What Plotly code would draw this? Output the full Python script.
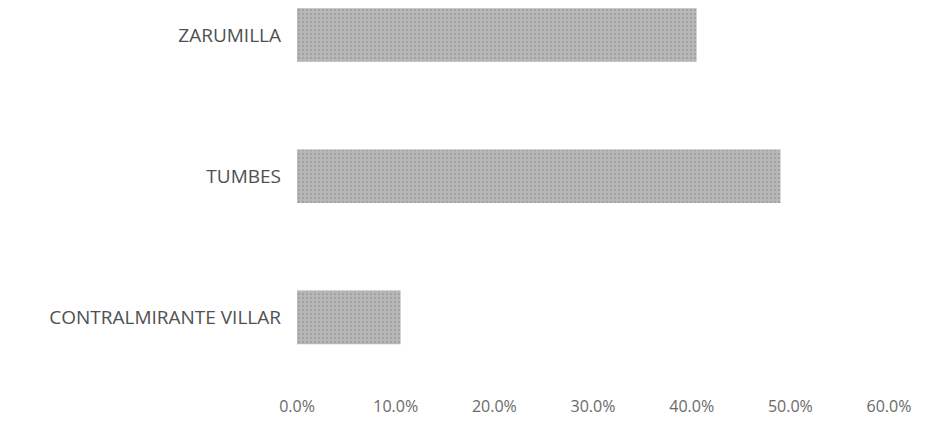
import plotly.graph_objects as go

categories = ["CONTRALMIRANTE VILLAR", "TUMBES", "ZARUMILLA"]
values = [0.105, 0.490, 0.405]
tick_vals = [0.0, 0.1, 0.2, 0.3, 0.4, 0.5, 0.6]

fig = go.Figure(
    go.Bar(
        x=values,
        y=categories,
        orientation="h",
        marker=dict(
            color="#b8b8b8",
            line=dict(width=0),
            pattern=dict(shape=".", fgcolor="#8c8c8c", size=4, solidity=0.3),
        ),
    )
)

fig.update_layout(
    width=938,
    height=443,
    margin=dict(l=297, r=49, t=0, b=55),
    paper_bgcolor="white",
    plot_bgcolor="white",
    bargap=0.62,
    showlegend=False,
    font=dict(family="Open Sans", color="#555555"),
)
fig.update_xaxes(
    range=[0, 0.6],
    tickvals=tick_vals,
    tickformat=".1%",
    showgrid=False,
    zeroline=False,
    showline=False,
    ticklabelstandoff=7,
    tickfont=dict(size=16, color="#6a6a6a"),
)
fig.update_yaxes(
    range=[-0.5, 2.248],
    showgrid=False,
    zeroline=False,
    showline=False,
    ticklabelstandoff=15,
    tickfont=dict(size=19, color="#505050"),
)

fig.write_html("out.html")
